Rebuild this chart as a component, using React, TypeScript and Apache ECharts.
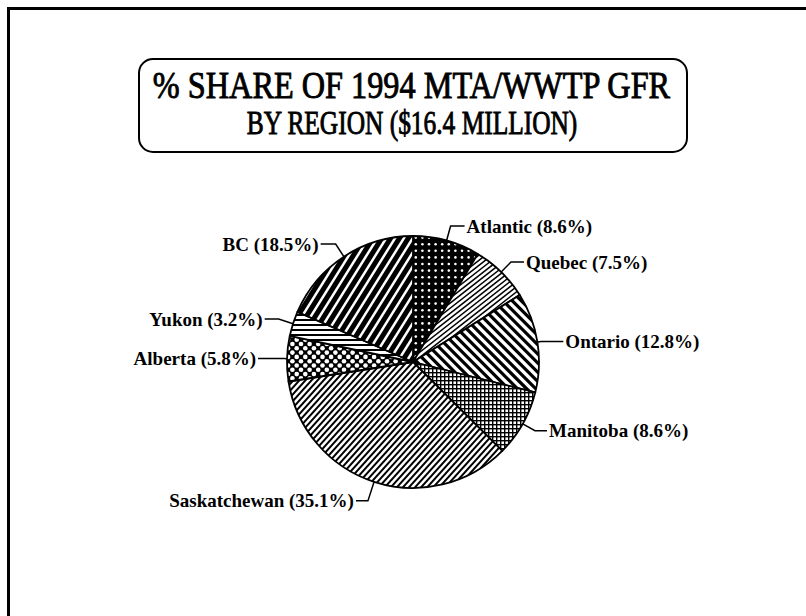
import React, { useEffect, useRef } from "react";
import * as echarts from "echarts";

// ---- data ----
const regions = ["Atlantic", "Quebec", "Ontario", "Manitoba", "Saskatchewan", "Alberta", "Yukon", "BC"];
const shares = [8.6, 7.5, 12.8, 8.6, 35.1, 5.8, 3.2, 18.5];
const titleLines = ["% SHARE OF 1994 MTA/WWTP GFR", "BY REGION ($16.4 MILLION)"];

// ---- styling (label line lengths per slice: radial, horizontal) ----
const lineLen1 = [15, 14, 4, 14, 20, 3, 15, 15];
const lineLen2 = [14, 13, 22, 12, 12, 26, 14, 15];

// pattern canvases are drawn in page space (no pattern rotation needed)
const PW = 640;
const PH = 540;

function bigPattern(draw: (ctx: CanvasRenderingContext2D) => void) {
  const c = document.createElement("canvas");
  c.width = PW;
  c.height = PH;
  const ctx = c.getContext("2d")!;
  draw(ctx);
  return { image: c, repeat: "repeat", imageWidth: PW, imageHeight: PH } as any;
}

// angleDeg: visual angle counter-clockwise from horizontal; "/" is positive
function stripes(period: number, black: number, angleDeg: number) {
  return bigPattern((ctx) => {
    ctx.fillStyle = "#fff";
    ctx.fillRect(0, 0, PW, PH);
    const t = (angleDeg * Math.PI) / 180;
    const dx = Math.cos(t);
    const dy = -Math.sin(t);
    const nx = Math.sin(t);
    const ny = Math.cos(t);
    ctx.strokeStyle = "#000";
    ctx.lineWidth = black;
    const L = 2000;
    const n = Math.ceil(1500 / period);
    for (let k = -n; k <= n; k++) {
      const px = nx * k * period;
      const py = ny * k * period;
      ctx.beginPath();
      ctx.moveTo(px - dx * L, py - dy * L);
      ctx.lineTo(px + dx * L, py + dy * L);
      ctx.stroke();
    }
  });
}

function grid(period: number, lw: number) {
  return bigPattern((ctx) => {
    ctx.fillStyle = "#fff";
    ctx.fillRect(0, 0, PW, PH);
    ctx.fillStyle = "#000";
    for (let x = 0; x < PW; x += period) ctx.fillRect(x, 0, lw, PH);
    for (let y = 0; y < PH; y += period) ctx.fillRect(0, y, PW, lw);
  });
}

// white round holes on black; diagonal=true gives a 45° (checkerboard) lattice
function holes(step: number, r: number, diagonal: boolean) {
  return bigPattern((ctx) => {
    ctx.fillStyle = "#000";
    ctx.fillRect(0, 0, PW, PH);
    ctx.fillStyle = "#fff";
    for (let u = 0; u * step < PW + step; u++) {
      for (let v = 0; v * step < PH + step; v++) {
        if (diagonal && (u + v) % 2 === 1) continue;
        ctx.beginPath();
        ctx.arc(u * step, v * step, r, 0, Math.PI * 2);
        ctx.fill();
      }
    }
  });
}

export default function App() {
  const ref = useRef<HTMLDivElement>(null);

  useEffect(() => {
    if (!ref.current) return;
    const chart = echarts.init(ref.current, undefined, { renderer: "svg" });

    const fills = [
      holes(6.6, 1.3, false), // Atlantic: white dots on black
      stripes(4, 1.5, 38), // Quebec: fine "/" lines
      stripes(6.5, 3.2, -45), // Ontario: "\" lines
      grid(4, 1.4), // Manitoba: fine grid
      stripes(4.5, 2, 48), // Saskatchewan: dense "/" lines
      holes(4.3, 2.3, true), // Alberta: diamond crosshatch
      stripes(5, 2.2, 0), // Yukon: horizontal lines
      stripes(7.5, 5, 58), // BC: wide "/" lines
    ];

    const labelFont = "Liberation Serif";

    chart.setOption({
      animation: false,
      backgroundColor: "#ffffff",
      graphic: [
        {
          type: "rect",
          shape: { x: 8.5, y: 8.5, width: 900, height: 700 },
          style: { fill: "none", stroke: "#000", lineWidth: 3 },
          silent: true,
        },
        {
          type: "rect",
          shape: { x: 139, y: 59, width: 548, height: 93, r: 14 },
          style: { fill: "none", stroke: "#000", lineWidth: 2 },
          silent: true,
        },
        {
          type: "text",
          x: 411.5,
          y: 86,
          scaleX: 0.85,
          style: {
            text: titleLines[0],
            font: '38px "Liberation Serif"',
            textAlign: "center",
            textVerticalAlign: "middle",
            fill: "#000",
            stroke: "#000",
            lineWidth: 0.9,
          },
          silent: true,
        },
        {
          type: "text",
          x: 412,
          y: 123,
          scaleX: 0.77,
          style: {
            text: titleLines[1],
            font: '33px "Liberation Serif"',
            textAlign: "center",
            textVerticalAlign: "middle",
            fill: "#000",
            stroke: "#000",
            lineWidth: 0.9,
          },
          silent: true,
        },
      ],
      series: [
        {
          type: "pie",
          center: [413, 362],
          radius: 126,
          startAngle: 90,
          clockwise: true,
          avoidLabelOverlap: false,
          silent: true,
          emphasis: { disabled: true },
          itemStyle: { borderColor: "#000", borderWidth: 1.8 },
          label: {
            show: true,
            position: "outside",
            formatter: (p: any) => `${p.name} (${p.value}%)`,
            color: "#000",
            fontFamily: labelFont,
            fontWeight: "bold",
            fontSize: 19,
            distanceToLabelLine: 2,
          },
          labelLine: {
            show: true,
            smooth: false,
            lineStyle: { color: "#000", width: 1.5 },
          },
          data: regions.map((name, i) => ({
            name,
            value: shares[i],
            itemStyle: { color: fills[i] },
            labelLine: { length: lineLen1[i], length2: lineLen2[i] },
          })),
        },
      ],
    });

    return () => chart.dispose();
  }, []);

  return (
    <div
      ref={ref}
      style={{ position: "absolute", left: 0, top: 0, width: 806, height: 616 }}
    />
  );
}
